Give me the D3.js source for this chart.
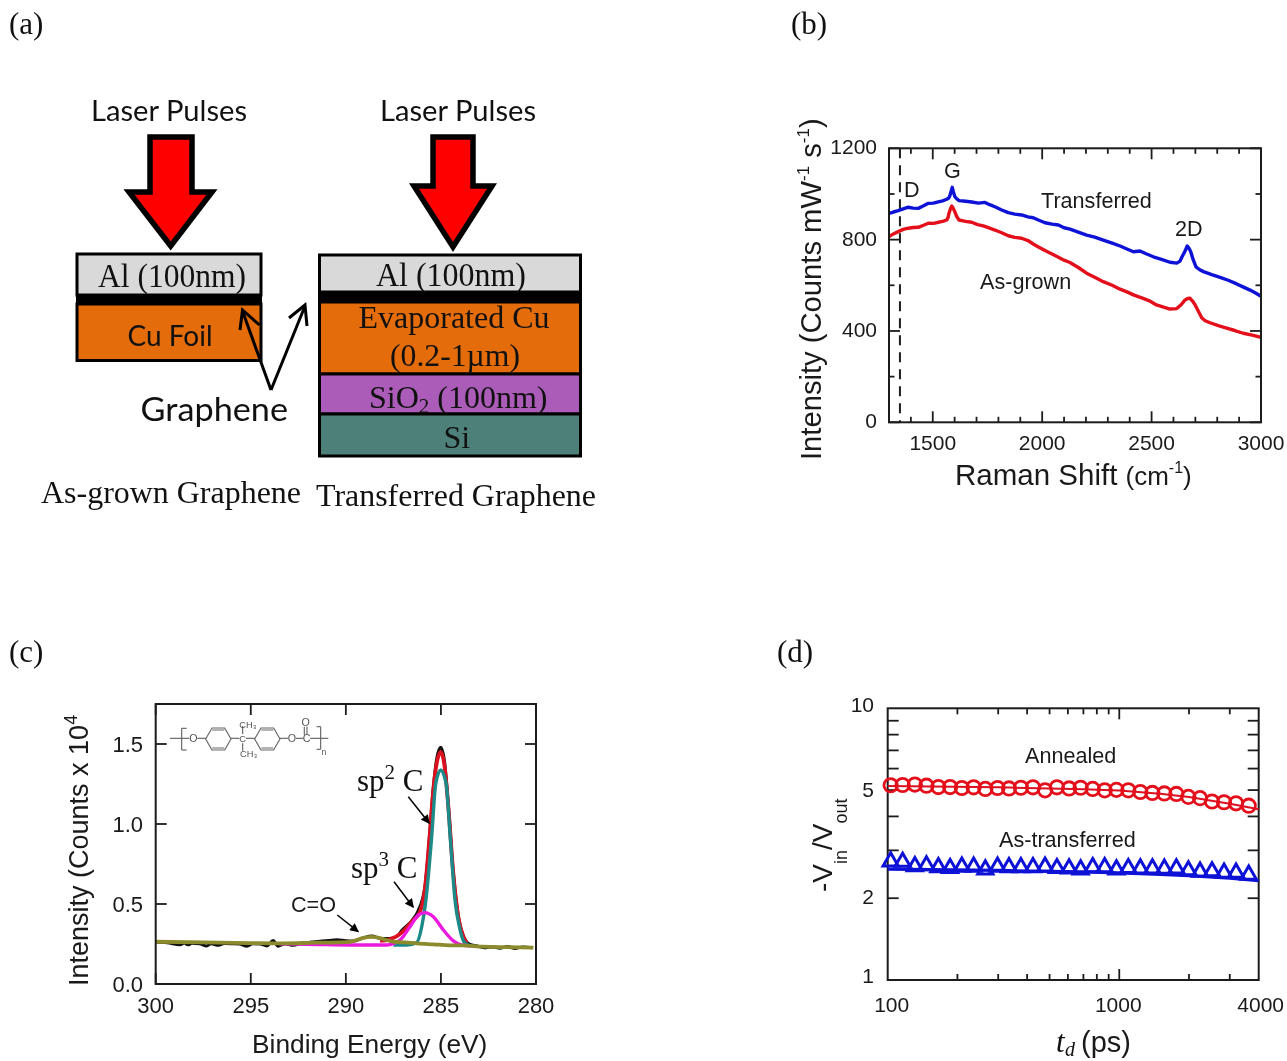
<!DOCTYPE html>
<html lang="en">
	<head>
		<meta charset="utf-8">
		<title>Graphene figure</title>
		<script type="text/javascript" src="https://cdn.jsdelivr.net/npm/d3@7"></script>
		<style type="text/css">
			body { margin: 0; background: #fff; }
			svg { display: block; filter: blur(0.45px); }
			.sans { font-family: "Liberation Sans", Arial, sans-serif; fill: #1a1a1a; }
			.serif { font-family: "Liberation Serif", "Times New Roman", serif; fill: #111; }
			.cal { font-family: Lato, sans-serif; fill: #111; }
		</style>
	</head>
	<body>
	<script>

		/* panel (b) Raman spectra, cm-1 and counts */
		var transferredShift = [1300,1320,1342,1365,1388,1410,1434,1458,1480,1503,1525,1545,1564,1573,1579,1584,1589,1594,1601,1610,1620,1650,1678,1708,1739,1760,1784,1815,1845,1875,1906,1935,1959,1985,2013,2045,2074,2100,2127,2165,2203,2240,2279,2320,2356,2390,2417,2447,2475,2508,2545,2584,2615,2630,2638,2652,2663,2671,2679,2690,2703,2720,2737,2775,2813,2850,2889,2920,2950,2975,3000];
		var transferredCounts = [915,921,927,935,942,938,937,948,959,960,965,970,977,982,995,1012,1029,1010,988,978,971,968,965,960,963,953,944,930,918,912,908,900,896,885,874,868,864,852,846,833,820,811,798,785,772,758,747,750,738,725,714,701,697,706,723,748,772,762,747,712,681,668,660,647,635,622,606,592,579,566,552];
		var grownShift = [1300,1320,1342,1365,1388,1410,1434,1458,1480,1503,1525,1545,1564,1570,1574,1581,1587,1593,1601,1610,1620,1650,1678,1705,1731,1760,1784,1815,1845,1875,1906,1935,1959,1985,2013,2045,2074,2100,2127,2165,2203,2240,2279,2320,2356,2390,2417,2461,2490,2522,2555,2584,2615,2635,2653,2665,2676,2688,2699,2715,2729,2745,2767,2805,2843,2880,2919,2960,3000];
		var grownCounts = [813,825,835,845,850,853,854,863,872,871,876,880,886,898,915,935,947,938,922,900,886,880,876,866,860,850,842,830,817,810,806,796,781,767,752,737,723,710,700,678,653,635,616,600,583,570,558,543,532,514,504,496,498,515,536,542,543,530,514,484,458,445,436,423,412,402,390,382,372];

		/* panel (c) XPS fit, binding energy in eV and counts x 10^4 */
		var scanEnergy = [300,299.4,298.72,298.5,298.3,298.1,297.7,297.32,297.1,296.7,296.4,296,295.6,295.2,294.9,294.5,294.16,293.82,293.57,293.2,292.78,292.3,291.8,291.36,290.9,290.48,290,289.6,289.1,288.64,288.2,287.7,287.3,287.06,286.54,286.2,285.84,285.61,285.4,285.22,285.01,284.82,284.61,284.35,284.09,283.82,283.5,283.1,282.7,282.3,281.9,281.5,281.1,280.7,280.2];
		var scanCounts = [.262,.258,.245,.256,.245,.254,.251,.238,.252,.242,.253,.252,.250,.236,.251,.250,.238,.272,.236,.252,.242,.256,.262,.268,.272,.276,.270,.268,.288,.300,.285,.284,.298,.335,.395,.458,.610,.91,1.23,1.41,1.479,1.40,1.12,.70,.43,.30,.250,.238,.226,.232,.224,.234,.222,.232,.226];
		var envelopeEnergy = [288.2,287.68,287.06,286.54,286.1,285.84,285.61,285.4,285.22,285.01,284.82,284.61,284.35,284.09,283.82,283.65];
		var envelopeCounts = [.27,.279,.321,.389,.452,.598,.9,1.2125,1.38,1.45,1.37,1.108,.692,.42,.296,.258];
		var sp2Energy = [287.5,286.8,286.27,286.01,285.79,285.5,285.27,285.01,284.73,284.5,284.26,284.03,283.79,283.5];
		var sp2Counts = [.243,.243,.26,.358,.525,.9,1.254,1.3375,1.254,.9,.525,.358,.264,.24];
		var sp3Energy = [293.5,291.5,289.78,287.85,287.15,286.63,286.19,285.84,285.4,284.87,284.35,283.91,283.4];
		var sp3Counts = [.252,.247,.244,.244,.275,.358,.431,.446,.42,.3375,.27,.244,.238];
		var coEnergy = [300,297.5,295.04,293.29,291.53,290.4,289.78,289.08,288.64,288.03,287.5,286.89,286.27,285.4,284.52,283.82,282.8,281.5,280.14];
		var coCounts = [.264,.26,.256,.254,.258,.26,.263,.289,.294,.281,.264,.26,.254,.248,.242,.242,.233,.23,.227];

		/* panel (d) delay in ps and -Vin/Vout */
		var delay = [103,116,131,147,165.5,186,209,235,264,298,334,376,424,478,538,607,681,768,865,972,1094,1233,1390,1565,1764,1988,2232,2515,2834,3193,3622];
		var annealed = [5.21,5.22,5.24,5.19,5.13,5.13,5.09,5.12,5.05,5.09,5.07,5.10,5.12,4.99,5.12,5.07,5.10,5.05,4.99,5.01,4.99,4.92,4.88,4.86,4.84,4.72,4.67,4.54,4.51,4.47,4.38];
		var asTransferred = [2.73,2.72,2.62,2.64,2.60,2.58,2.61,2.61,2.55,2.61,2.60,2.60,2.60,2.61,2.58,2.57,2.55,2.60,2.60,2.55,2.58,2.57,2.57,2.565,2.57,2.53,2.50,2.51,2.48,2.48,2.44];
		var fitDelay = [100,300,700,1000,1500,2000,3000,4000];
		var annealedFit = [5.18,5.12,5.04,4.98,4.85,4.72,4.45,4.25];
		var transferredFit = [2.56,2.53,2.50,2.48,2.445,2.42,2.37,2.32];

		/* tick labels */
		var ramanTicks = [1500,2000,2500,3000];
		var ramanCountTicks = [0,400,800,1200];
		var energyTicks = [300,295,290,285,280];
		var xpsTicks = [0,0.5,1,1.5];
		var delayLabels = [100,1000,4000];
		var ratioLabels = [1,2,5,10];

		/* diagram labels */
		var grownLayers = ["Al (100nm)","Cu Foil"];
		var transferredLayers = ["Al (100nm)","Evaporated Cu","(0.2-1\u00b5m)","SiO","(100nm)","Si"];

		var svg = d3.select("body").append("svg").attr("width", 1287).attr("height", 1061);

		var ink = "#1c1c1c";

		function addText(x, y, str, cls, size, anchor){
			return svg.append("text").attr("x", x).attr("y", y).attr("class", cls)
				.attr("font-size", size).attr("text-anchor", anchor || "start").text(str);
		}

		// a text in several runs, each run is [string, size, baseline shift]
		function addRuns(g, runs, cls){
			var t = g.append("text").attr("class", cls);
			var prev = 0;
			runs.forEach(function(r){
				var shift = r[2] || 0;
				t.append("tspan").attr("font-size", r[1]).attr("dy", shift - prev).text(r[0]);
				prev = shift;
			});
			return t;
		}

		// frame with inward ticks on all four sides
		function drawFrame(x, y, xMajor, xMinor, yMajor, yMinor, majorLen, minorLen){
			var r = x.range(), b = y.range();
			var lines = [];
			xMajor.forEach(function(v){ lines.push([x(v), b[0], x(v), b[0]-majorLen]); lines.push([x(v), b[1], x(v), b[1]+majorLen]); });
			xMinor.forEach(function(v){ lines.push([x(v), b[0], x(v), b[0]-minorLen]); lines.push([x(v), b[1], x(v), b[1]+minorLen]); });
			yMajor.forEach(function(v){ lines.push([r[0], y(v), r[0]+majorLen, y(v)]); lines.push([r[1], y(v), r[1]-majorLen, y(v)]); });
			yMinor.forEach(function(v){ lines.push([r[0], y(v), r[0]+minorLen, y(v)]); lines.push([r[1], y(v), r[1]-minorLen, y(v)]); });
			svg.append("g").selectAll("line").data(lines).enter().append("line")
				.attr("x1", function(d){ return d[0]; }).attr("y1", function(d){ return d[1]; })
				.attr("x2", function(d){ return d[2]; }).attr("y2", function(d){ return d[3]; })
				.attr("stroke", ink).attr("stroke-width", 1.8);
			svg.append("rect").attr("x", r[0]).attr("y", b[1]).attr("width", r[1]-r[0]).attr("height", b[0]-b[1])
				.attr("fill", "none").attr("stroke", ink).attr("stroke-width", 2);
		}

		function drawCurve(xs, ys, x, y, color, width, curve){
			var pts = xs.map(function(v, i){ return [v, ys[i]]; });
			var line = d3.line().x(function(d){ return x(d[0]); }).y(function(d){ return y(d[1]); })
				.curve(curve || d3.curveLinear);
			svg.append("path").datum(pts).attr("d", line).attr("fill", "none")
				.attr("stroke", color).attr("stroke-width", width).attr("stroke-linejoin", "round");
		}

		// panel letters
		addText(9, 34, "(a)", "serif", 31);
		addText(791, 34, "(b)", "serif", 31);
		addText(9, 662, "(c)", "serif", 31);
		addText(777, 662, "(d)", "serif", 31);

		drawDiagram();
		drawRaman();
		drawXps();
		drawGain();

		function drawDiagram(){
			var box = function(x, y, w, h, fill){
				svg.append("rect").attr("x", x).attr("y", y).attr("width", w).attr("height", h)
					.attr("fill", fill).attr("stroke", "#000").attr("stroke-width", 3);
			};
			var bigArrow = function(x0, x1, hx0, hx1, tip, top, shoulder, bottom){
				svg.append("polygon")
					.attr("points", [[x0,top],[x1,top],[x1,shoulder],[hx1,shoulder],[tip,bottom],[hx0,shoulder],[x0,shoulder]].join(" "))
					.attr("fill", "#ff0000").attr("stroke", "#000").attr("stroke-width", 5.5);
			};
			var fitted = function(x, y, w, str, cls, size){
				addText(x, y, str, cls, size).attr("textLength", w).attr("lengthAdjust", "spacingAndGlyphs");
			};

			fitted(91, 121, 156, "Laser Pulses", "cal", 29);
			fitted(380, 121, 156, "Laser Pulses", "cal", 29);
			bigArrow(150, 192, 129, 212, 170.7, 137, 192, 246);
			bigArrow(433, 473, 414, 492, 453, 137, 186, 247);

			// as-grown stack
			box(77, 254, 184, 41, "#d9d9d9");
			svg.append("rect").attr("x", 76).attr("y", 295).attr("width", 186).attr("height", 9).attr("fill", "#000");
			box(77, 304, 184, 56.5, "#e46c0a");
			fitted(98, 287, 148, grownLayers[0], "serif", 33);
			fitted(127.5, 346, 85, grownLayers[1], "cal", 29);

			// transferred stack
			box(319.5, 255, 261, 37, "#d9d9d9");
			svg.append("rect").attr("x", 318).attr("y", 292).attr("width", 264).attr("height", 10).attr("fill", "#000");
			box(319.5, 302, 261, 72, "#e46c0a");
			box(319.5, 374, 261, 40, "#ab5cb8");
			box(319.5, 414, 261, 42, "#4d8079");
			fitted(376, 286, 150, transferredLayers[0], "serif", 33);
			fitted(358.5, 328, 191, transferredLayers[1], "serif", 32);
			fitted(390, 366, 130, transferredLayers[2], "serif", 32);
			var sio = svg.append("g").attr("transform", "translate(369,408)");
			addRuns(sio, [[transferredLayers[3], 32], ["2", 21, 5], [" " + transferredLayers[4], 32, 0]], "serif");
			addText(443.5, 448, transferredLayers[5], "serif", 32);

			// graphene pointers
			var pointer = d3.line();
			svg.append("path").attr("d", pointer([[271,390],[242.5,311]])).attr("stroke", "#000").attr("stroke-width", 3).attr("fill", "none");
			svg.append("path").attr("d", pointer([[271,390],[305,306]])).attr("stroke", "#000").attr("stroke-width", 3).attr("fill", "none");
			svg.append("path").attr("d", pointer([[240,330],[242.5,310],[259.5,325]])).attr("stroke", "#000").attr("stroke-width", 3).attr("fill", "none");
			svg.append("path").attr("d", pointer([[289,318],[305,305],[307,326]])).attr("stroke", "#000").attr("stroke-width", 3).attr("fill", "none");
			fitted(140.5, 421, 147.5, "Graphene", "cal", 33);

			fitted(41, 503, 260, "As-grown Graphene", "serif", 31.5);
			fitted(316, 506, 280, "Transferred Graphene", "serif", 31.5);
		}

		function drawRaman(){
			var x = d3.scaleLinear().domain([1300,3000]).range([889,1261]);
			var y = d3.scaleLinear().domain([0,1200]).range([422.3,148.3]);

			// dashed D band marker
			svg.append("line").attr("x1", x(1350)).attr("x2", x(1350)).attr("y1", y(1200)).attr("y2", y(0))
				.attr("stroke", ink).attr("stroke-width", 2).attr("stroke-dasharray", "10 7");

			drawCurve(transferredShift, transferredCounts, x, y, "#0d12d6", 3.4);
			drawCurve(grownShift, grownCounts, x, y, "#e3101c", 3.4);

			var minorX = d3.range(1400, 3000, 100).filter(function(v){ return ramanTicks.indexOf(v) < 0; });
			drawFrame(x, y, ramanTicks, minorX, ramanCountTicks, [200,600,1000], 11, 5.5);

			svg.append("g").selectAll("text").data(ramanTicks).enter().append("text")
				.attr("class", "sans").attr("font-size", 21).attr("text-anchor", "middle")
				.attr("x", function(d){ return x(d); }).attr("y", 450).text(function(d){ return d; });
			svg.append("g").selectAll("text").data(ramanCountTicks).enter().append("text")
				.attr("class", "sans").attr("font-size", 21).attr("text-anchor", "end")
				.attr("x", 877).attr("y", function(d){ return y(d) + 6; }).text(function(d){ return d; });

			addText(1041, 208, "Transferred", "sans", 21.6);
			addText(980, 289, "As-grown", "sans", 21.6);
			addText(904, 197, "D", "sans", 21.6);
			addText(944, 178, "G", "sans", 21.6);
			addText(1175, 236, "2D", "sans", 21.6);

			addRuns(svg.append("g").attr("transform", "translate(955,485)"),
				[["Raman Shift ", 29.5], ["(cm", 26], ["-1", 16, -12], [")", 26, 0]], "sans");
			addRuns(svg.append("g").attr("transform", "translate(821,460) rotate(-90)"),
				[["Intensity (Counts mW", 29.2], ["-1", 17, -12], [" s", 29.2, 0], ["-1", 17, -12], [")", 29.2, 0]], "sans");
		}

		function drawXps(){
			var x = d3.scaleLinear().domain([300,280]).range([155.7,536]);
			var y = d3.scaleLinear().domain([0,1.75]).range([984,704]);
			var smooth = d3.curveMonotoneX;

			drawCurve(scanEnergy, scanCounts, x, y, "#111", 3, smooth);
			drawCurve(envelopeEnergy, envelopeCounts, x, y, "#dd1020", 3.8, smooth);
			drawCurve(sp2Energy, sp2Counts, x, y, "#1c8a88", 3.4, smooth);
			drawCurve(sp3Energy, sp3Counts, x, y, "#ec1adf", 3.4, smooth);
			drawCurve(coEnergy, coCounts, x, y, "#8b8a2c", 3.8, smooth);

			drawFrame(x, y, energyTicks, [], xpsTicks, [], 11, 0);

			svg.append("g").selectAll("text").data(energyTicks).enter().append("text")
				.attr("class", "sans").attr("font-size", 22).attr("text-anchor", "middle")
				.attr("x", function(d){ return x(d); }).attr("y", 1013).text(function(d){ return d; });
			svg.append("g").selectAll("text").data(xpsTicks).enter().append("text")
				.attr("class", "sans").attr("font-size", 22).attr("text-anchor", "end")
				.attr("x", 143).attr("y", function(d){ return y(d) + 8; }).text(function(d){ return d3.format(".1f")(d); });

			addText(252, 1053, "Binding Energy (eV)", "sans", 26.3);
			addRuns(svg.append("g").attr("transform", "translate(88,986) rotate(-90)"),
				[["Intensity (Counts x 10", 27], ["4", 18, -11]], "sans");

			addRuns(svg.append("g").attr("transform", "translate(357,791)"),
				[["sp", 31], ["2", 21, -12], [" C", 31, 0]], "serif");
			addRuns(svg.append("g").attr("transform", "translate(351,878)"),
				[["sp", 31], ["3", 21, -12], [" C", 31, 0]], "serif");
			addText(291, 912, "C=O", "sans", 21.6);

			svg.append("defs").append("marker").attr("id", "head").attr("viewBox", "0 0 10 10")
				.attr("refX", 9).attr("refY", 5).attr("markerWidth", 11).attr("markerHeight", 9)
				.attr("markerUnits", "userSpaceOnUse").attr("orient", "auto")
				.append("path").attr("d", "M0,0L10,5L0,10z").attr("fill", "#000");
			var notes = [[408.3,796.7,429.3,823.3],[394,881.7,413.3,907.3],[337.3,915,358.3,931.7]];
			svg.append("g").selectAll("line").data(notes).enter().append("line")
				.attr("x1", function(d){ return d[0]; }).attr("y1", function(d){ return d[1]; })
				.attr("x2", function(d){ return d[2]; }).attr("y2", function(d){ return d[3]; })
				.attr("stroke", "#000").attr("stroke-width", 1.5).attr("marker-end", "url(#head)");

			drawMonomer();
		}

		// polycarbonate repeat unit, drawn in the crop's own units
		function drawMonomer(){
			var g = svg.append("g").attr("transform", "translate(160,710) scale(0.3333)");
			var gray = "#666";
			var seg = [
				[30,85,88,85],[112,85,138,85],[65,55,65,120],[65,55,80,55],[65,120,80,120],
				[212,85,238,85],[258,85,285,85],[248,48,248,72],[248,100,248,122],
				[358,85,384,85],[408,85,430,85],[450,85,505,85],[433,50,433,74],[441,50,441,74],
				[482,50,482,118],[470,50,482,50],[470,118,482,118]
			];
			g.selectAll("line").data(seg).enter().append("line")
				.attr("x1", function(d){ return d[0]; }).attr("y1", function(d){ return d[1]; })
				.attr("x2", function(d){ return d[2]; }).attr("y2", function(d){ return d[3]; })
				.attr("stroke", gray).attr("stroke-width", 3.5);
			[175,322].forEach(function(cx){
				var pts = d3.range(6).map(function(i){
					var a = Math.PI / 3 * i;
					return [cx + 38 * Math.cos(a), 87 + 38 * Math.sin(a)];
				});
				g.append("polygon").attr("points", pts.join(" ")).attr("fill", "none").attr("stroke", gray).attr("stroke-width", 3.5);
				g.append("line").attr("x1", cx-18).attr("x2", cx+18).attr("y1", 60).attr("y2", 60).attr("stroke", gray).attr("stroke-width", 3);
				g.append("line").attr("x1", cx-18).attr("x2", cx+18).attr("y1", 114).attr("y2", 114).attr("stroke", gray).attr("stroke-width", 3);
			});
			var labels = [["O",100,97,32],["C",248,97,28],["CH\u2083",264,54,28],["CH\u2083",266,140,28],["O",396,97,32],["C",440,97,32],["O",437,48,32],["n",492,135,26]];
			g.selectAll("text").data(labels).enter().append("text").attr("class", "sans")
				.attr("x", function(d){ return d[1]; }).attr("y", function(d){ return d[2]; })
				.attr("font-size", function(d){ return d[3]; }).attr("text-anchor", "middle")
				.style("fill", "#555").text(function(d){ return d[0]; });
		}

		function drawGain(){
			var x = d3.scaleLog().domain([100,4000]).range([887.7,1258.7]);
			var y = d3.scaleLog().domain([1,10]).range([980,708.3]);

			var minorX = [200,300,400,500,600,700,800,900,2000,3000];
			drawFrame(x, y, [1000], minorX, [2,3,4,5,6,7,8,9], [], 11, 6);

			drawCurve(fitDelay, annealedFit, x, y, "#dd1020", 2);
			drawCurve(fitDelay, transferredFit, x, y, "#0d12d6", 3.2);

			svg.append("g").selectAll("circle").data(delay).enter().append("circle")
				.attr("cx", function(d){ return x(d); })
				.attr("cy", function(d, i){ return y(annealed[i]); })
				.attr("r", 6.7).attr("fill", "none").attr("stroke", "#e3101c").attr("stroke-width", 2.8);

			var tri = d3.symbol().type(d3.symbolTriangle).size(100);
			svg.append("g").selectAll("path").data(delay).enter().append("path")
				.attr("d", tri)
				.attr("transform", function(d, i){ return "translate(" + x(d) + "," + y(asTransferred[i]) + ")"; })
				.attr("fill", "none").attr("stroke", "#0d12d6").attr("stroke-width", 3);

			svg.append("g").selectAll("text").data(delayLabels).enter().append("text")
				.attr("class", "sans").attr("font-size", 21).attr("text-anchor", "middle")
				.attr("x", function(d){ return d == 100 ? x(d) + 4 : d == 4000 ? x(d) + 2 : x(d) - 1; })
				.attr("y", 1012).text(function(d){ return d; });
			svg.append("g").selectAll("text").data(ratioLabels).enter().append("text")
				.attr("class", "sans").attr("font-size", 21).attr("text-anchor", "end")
				.attr("x", 874).attr("y", function(d){ return y(d) + 7 + (d == 10 ? -3 : d == 1 ? -4 : d == 2 ? -1 : 0); })
				.text(function(d){ return d; });

			addText(1025, 763, "Annealed", "sans", 21.6);
			addText(999, 847, "As-transferred", "sans", 21.6);

			addRuns(svg.append("g").attr("transform", "translate(832,892) rotate(-90)"),
				[["-V", 28], ["in", 18, 15], ["/V", 28, 0], ["out", 18, 15]], "sans");
			addText(1056, 1052, "t", "serif", 31).attr("font-style", "italic");
			addText(1065, 1056, "d", "serif", 20).attr("font-style", "italic");
			addText(1081, 1052, "(ps)", "sans", 29);
		}

	</script>
	</body>
</html>
